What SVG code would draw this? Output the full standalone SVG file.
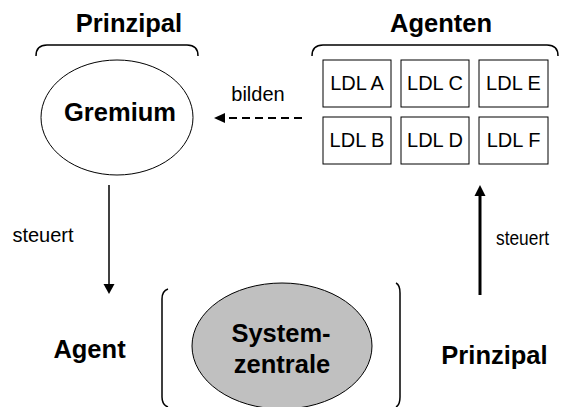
<svg xmlns="http://www.w3.org/2000/svg" width="561" height="407" viewBox="0 0 561 407">
<defs>
<style>
.b{font-family:"Liberation Sans",Arial,sans-serif;font-weight:bold;font-size:25.5px;fill:#000;text-anchor:middle}
.r{font-family:"Liberation Sans",Arial,sans-serif;font-size:20px;fill:#000;text-anchor:middle}
.br{fill:none;stroke:#000;stroke-width:1.5}
.box{fill:#fff;stroke:#000;stroke-width:1}
</style>
</defs>
<rect width="561" height="407" fill="#fff"/>
<g id="label-prinzipal-top">
<text class="b" x="129" y="32">Prinzipal</text>
<path class="br" d="M36,56 Q36,45 47,45 L187,45 Q198,45 198,56"/>
</g>
<g id="gremium">
<ellipse cx="117" cy="117.5" rx="76" ry="57.5" fill="#fff" stroke="#000" stroke-width="1"/>
<text class="b" x="120" y="121">Gremium</text>
</g>
<g id="agenten">
<text class="b" x="441" y="32">Agenten</text>
<path class="br" d="M312,56 Q312,45 323,45 L547,45 Q558,45 558,56"/>
</g>
<g id="ldl-a"><rect class="box" x="323" y="60" width="68" height="47"/><text class="r" x="357" y="90">LDL A</text></g>
<g id="ldl-c"><rect class="box" x="401" y="60" width="68" height="47"/><text class="r" x="435" y="90">LDL C</text></g>
<g id="ldl-e"><rect class="box" x="479" y="60" width="69" height="47"/><text class="r" x="513.5" y="90">LDL E</text></g>
<g id="ldl-b"><rect class="box" x="323" y="117" width="68" height="47"/><text class="r" x="357" y="147">LDL B</text></g>
<g id="ldl-d"><rect class="box" x="401" y="117" width="68" height="47"/><text class="r" x="435" y="147">LDL D</text></g>
<g id="ldl-f"><rect class="box" x="479" y="117" width="69" height="47"/><text class="r" x="513.5" y="147">LDL F</text></g>
<g id="systemzentrale">
<path class="br" d="M168,289 Q162,291 162,299 L162,397 Q162,405 168,407"/>
<path class="br" d="M396,283 Q400,285 400,293 L400,397 Q400,405 396,407"/>
<ellipse cx="282" cy="346" rx="90" ry="63" fill="#c0c0c0" stroke="#000" stroke-width="1"/>
<text class="b" x="281" y="342">System-</text>
<text class="b" x="282" y="373">zentrale</text>
</g>
<g id="label-agent"><text class="b" x="89.5" y="358">Agent</text></g>
<g id="label-prinzipal-bottom"><text class="b" x="494.5" y="364">Prinzipal</text></g>
<g id="connectors">
<line x1="302" y1="118" x2="224" y2="118" stroke="#000" stroke-width="2" stroke-dasharray="8,5"/>
<polygon points="214,118 225,113 225,123" fill="#000"/>
<text class="r" x="258" y="101">bilden</text>
<line x1="109" y1="185" x2="109" y2="285" stroke="#000" stroke-width="1.5"/>
<polygon points="109,294 103.5,284 114.5,284" fill="#000"/>
<text class="r" x="43" y="242">steuert</text>
<line x1="480" y1="295" x2="480" y2="194" stroke="#000" stroke-width="3"/>
<polygon points="480,185 474.5,196 485.5,196" fill="#000"/>
<text class="r" x="522.5" y="245" textLength="53" lengthAdjust="spacingAndGlyphs">steuert</text>
</g>
</svg>
